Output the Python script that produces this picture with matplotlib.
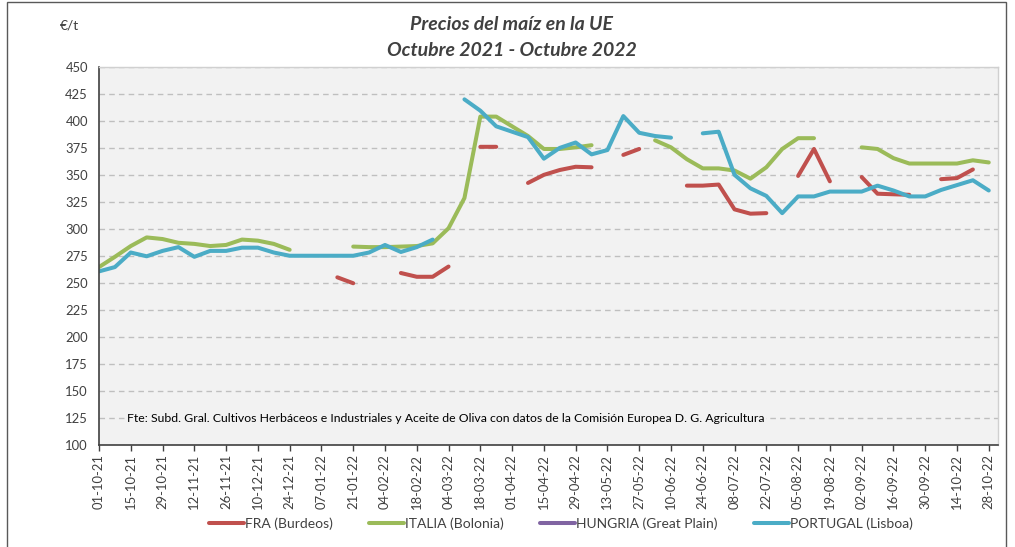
import numpy as np
import matplotlib
matplotlib.use("Agg")
import matplotlib.pyplot as plt
from matplotlib.patches import Rectangle

nan = np.nan

tick_labels = ["01-10-21", "15-10-21", "29-10-21", "12-11-21", "26-11-21", "10-12-21",
               "24-12-21", "07-01-22", "21-01-22", "04-02-22", "18-02-22", "04-03-22",
               "18-03-22", "01-04-22", "15-04-22", "29-04-22", "13-05-22", "27-05-22",
               "10-06-22", "24-06-22", "08-07-22", "22-07-22", "05-08-22", "19-08-22",
               "02-09-22", "16-09-22", "30-09-22", "14-10-22", "28-10-22"]

fra = [nan, nan, nan, nan, nan, nan, nan, nan, nan, nan,
       nan, nan, nan, nan, nan, 255, 249.5, nan, nan, 259,
       255.5, 255.5, 265, nan, 376, 376, nan, 342.5, 350, 354.5,
       357.5, 357, nan, 368.5, 374, nan, nan, 340, 340, 341,
       318, 314, 314.5, nan, 349, 374, 344, nan, 348, 332.5,
       332, 331.5, nan, 346, 347, 355, nan]

italia = [264.5, 274, 284, 292, 290.5, 287, 286, 284, 285, 290,
          289, 286, 280.5, nan, nan, nan, 283.5, 283, 283, 283.5,
          284, 286.5, 300.5, 328.5, 404, 404, 395, 386, 374, 374,
          375.5, 377.5, nan, nan, nan, 382, 375.5, 364.5, 356, 356,
          354, 346.5, 357, 374, 384, 384, nan, nan, 375.5, 374,
          365.5, 360.5, 360.5, 360.5, 360.5, 363.5, 361.5]

hungria = [nan] * 57

portugal = [260.5, 264.5, 278, 274.5, 279.5, 283, 274, 279.5, 279.5, 282.5,
            282.5, 278, 275, 275, 275, 275, 275, 278, 285, 278.5,
            283, 290, nan, 420, 409.5, 395, 390, 385, 365, 375,
            380, 369, 373, 404.5, 389, 386, 384.5, nan, 388.5, 390,
            350, 337.5, 330.5, 314.5, 330, 330, 334.5, 334.5, 334.5, 340,
            335.5, 330, 330, 336, 340.5, 345, 335.5]

series_names = ["FRA (Burdeos)", "ITALIA (Bolonia)", "HUNGRIA (Great Plain)", "PORTUGAL (Lisboa)"]
series_colors = ["#C0504D", "#9BBB59", "#8064A2", "#4BACC6"]

plt.rcParams['font.family'] = ['Lato', 'DejaVu Sans']

fig = plt.figure(figsize=(10.15, 5.47), dpi=100)
ax = fig.add_axes([99 / 1015, 1 - 444.5 / 547, (997.5 - 99) / 1015, (444.5 - 67) / 547])
ax.set_facecolor("#F2F2F2")

x = np.arange(57)
for vals, name, col in zip([fra, italia, hungria, portugal], series_names, series_colors):
    ax.plot(x, np.array(vals, dtype=float), color=col, lw=2.9, label=name,
            solid_capstyle='round', solid_joinstyle='round')

ax.set_xlim(0, 56.55)
ax.set_ylim(100, 450)
ax.set_yticks(np.arange(100, 451, 25))
ax.set_xticks(np.arange(0, 57, 2))
ax.set_xticklabels(tick_labels, rotation=90, fontsize=9.4, color="#404040")
ax.tick_params(axis='y', labelsize=9.4, labelcolor="#404040", length=0, pad=8)
ax.tick_params(axis='x', length=4, width=1, color="#404040", pad=3)
ax.grid(axis='y', color="#BFBFBF", linestyle=(0, (4, 3)), lw=1)
ax.set_axisbelow(True)
for s in ['top', 'right']:
    ax.spines[s].set_color("#D0D0D0")
    ax.spines[s].set_linewidth(1)
ax.spines['left'].set_color("#404040")
ax.spines['left'].set_linewidth(1.2)
ax.spines['bottom'].set_color("#404040")
ax.spines['bottom'].set_linewidth(1.2)

ax.text(0.031, 0.069, "Fte: Subd. Gral. Cultivos Herbáceos e Industriales y Aceite de Oliva con datos de la Comisión Europea D. G. Agricultura",
        transform=ax.transAxes, fontsize=8.8, color="black", va='center', ha='left',
        bbox=dict(facecolor="#F2F2F2", edgecolor='none', pad=1.5))

fig.text(512 / 1015, 1 - 25 / 547, "Precios del maíz en la UE", ha='center', va='center',
         fontsize=14, fontweight='bold', style='italic', color="#404040")
fig.text(512 / 1015, 1 - 50 / 547, "Octubre 2021 - Octubre 2022", ha='center', va='center',
         fontsize=14, fontweight='bold', style='italic', color="#404040")
fig.text(60 / 1015, 1 - 25 / 547, "€/t", ha='left', va='center', fontsize=10, color="#404040")

leg = fig.legend(loc='center', bbox_to_anchor=(561 / 1015, 1 - 524 / 547), ncol=4, frameon=False,
                 fontsize=10, handlelength=2.5, handletextpad=0.1, columnspacing=2.6)
for t in leg.get_texts():
    t.set_color("#404040")

fig.patches.append(Rectangle((7 / 1015, -0.01), (1006 - 7) / 1015, 1 - 2 / 547 + 0.01,
                             transform=fig.transFigure, fill=False, edgecolor="#595959", lw=1))

fig.savefig("out.png", dpi=100)
